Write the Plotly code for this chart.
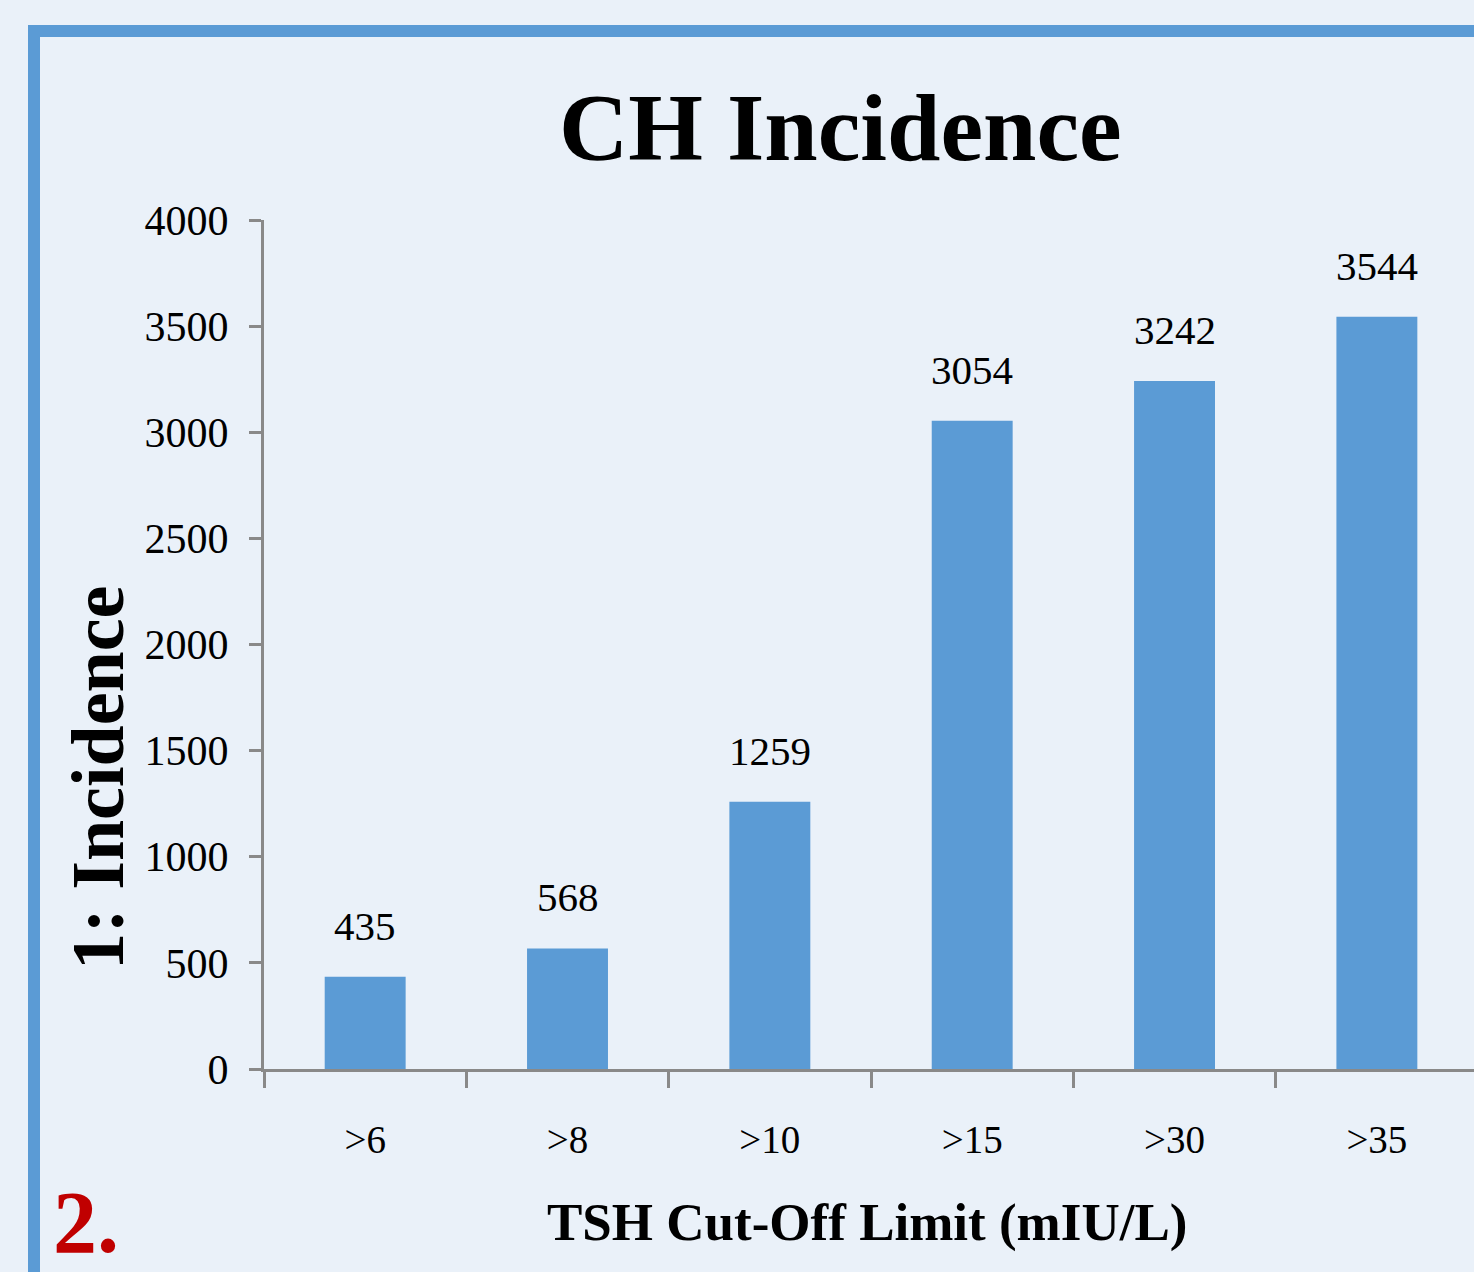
import plotly.graph_objects as go

categories = [">6", ">8", ">10", ">15", ">30", ">35"]
values = [435, 568, 1259, 3054, 3242, 3544]
y_ticks = [0, 500, 1000, 1500, 2000, 2500, 3000, 3500, 4000]

W, H = 1474, 1272
L, R, T, B = 264, 0, 220, 203
pw = W - L - R
ph = H - T - B

def px(x):
    return (x - L) / pw

def py(y):
    return (H - B - y) / ph

SERIF = "Liberation Serif, Times New Roman, serif"
BG = "#EAF1F9"
BLUE = "#5B9BD5"
AXIS = "#898989"

fig = go.Figure()
fig.add_trace(go.Bar(x=categories, y=values, marker_color=BLUE, marker_line_width=0))

for c, v in zip(categories, values):
    fig.add_annotation(x=c, y=v, text=str(v), showarrow=False, yanchor="bottom",
                       yshift=26, font=dict(family=SERIF, size=41, color="black"))

fig.add_annotation(xref="paper", yref="paper", x=px(840), y=py(128), text="<b>CH Incidence</b>",
                   showarrow=False, xanchor="center", yanchor="middle",
                   font=dict(family=SERIF, size=96, color="black"))
fig.add_annotation(xref="paper", yref="paper", x=px(98), y=py(778), text="<b>1: Incidence</b>",
                   showarrow=False, textangle=-90, xanchor="center", yanchor="middle",
                   font=dict(family=SERIF, size=74, color="black"))
fig.add_annotation(xref="paper", yref="paper", x=px(867), y=py(1222), text="<b>TSH Cut-Off Limit (mIU/L)</b>",
                   showarrow=False, xanchor="center", yanchor="middle",
                   font=dict(family=SERIF, size=53, color="black"))
fig.add_annotation(xref="paper", yref="paper", x=px(86), y=py(1222), text="<b>2.</b>",
                   showarrow=False, xanchor="center", yanchor="middle",
                   font=dict(family=SERIF, size=88, color="#C00000"))

fig.add_shape(type="rect", xref="paper", yref="paper", x0=px(34), y0=py(1400), x1=px(1600), y1=py(31),
              line=dict(color=BLUE, width=12), fillcolor="rgba(0,0,0,0)", layer="below")

fig.update_layout(
    width=W, height=H,
    margin=dict(l=L, r=R, t=T, b=B, pad=0),
    paper_bgcolor=BG, plot_bgcolor=BG,
    showlegend=False,
    bargap=0.6,
    xaxis=dict(type="category", range=[-0.5, 5.48], showline=True, linecolor=AXIS, linewidth=3,
               ticks="outside", tickson="boundaries", ticklen=16, tickwidth=3, tickcolor=AXIS,
               showgrid=False, zeroline=False, ticklabelstandoff=34,
               tickfont=dict(family=SERIF, size=39, color="black")),
    yaxis=dict(range=[0, 4000], tickvals=y_ticks, showline=True, linecolor=AXIS, linewidth=3,
               ticks="outside", ticklen=12, tickwidth=3, tickcolor=AXIS,
               showgrid=False, zeroline=False, ticklabelstandoff=12,
               tickfont=dict(family=SERIF, size=42, color="black")),
)

fig.write_html("out.html", config={"displayModeBar": False},
               post_script="document.body.style.margin='0';document.body.style.background='#EAF1F9';")
